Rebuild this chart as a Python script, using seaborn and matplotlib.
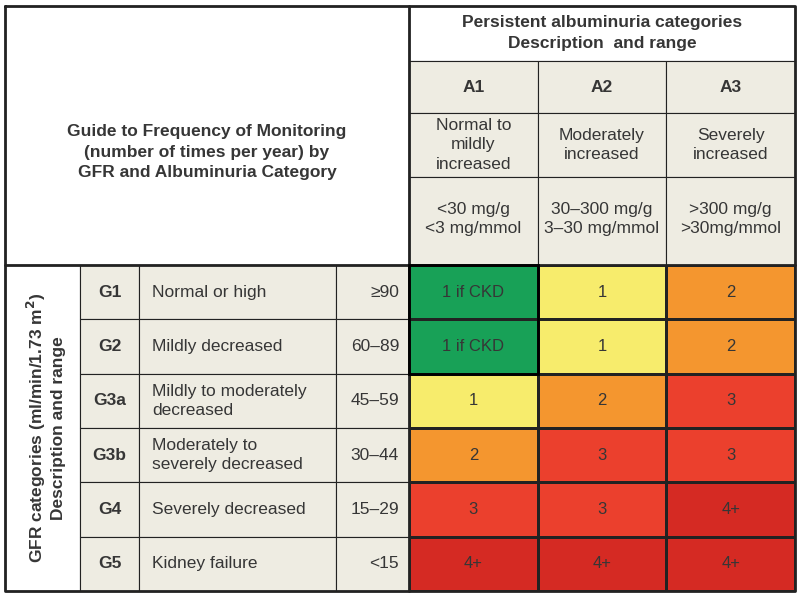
import matplotlib
matplotlib.use("Agg")
import matplotlib.pyplot as plt
import numpy as np
import seaborn as sns
from matplotlib.colors import ListedColormap
from matplotlib.patches import Rectangle

# ---- data ----
alb_cats = ["A1", "A2", "A3"]
alb_desc = ["Normal to\nmildly\nincreased", "Moderately\nincreased", "Severely\nincreased"]
alb_range = ["<30 mg/g\n<3 mg/mmol", "30\u2013300 mg/g\n3\u201330 mg/mmol", ">300 mg/g\n>30mg/mmol"]
gfr_cats = ["G1", "G2", "G3a", "G3b", "G4", "G5"]
gfr_desc = ["Normal or high", "Mildly decreased", "Mildly to moderately\ndecreased",
            "Moderately to\nseverely decreased", "Severely decreased", "Kidney failure"]
gfr_range = ["\u226590", "60\u201389", "45\u201359", "30\u201344", "15\u201329", "<15"]
risk_level = [[0, 1, 2], [0, 1, 2], [1, 2, 3], [2, 3, 3], [3, 3, 4], [4, 4, 4]]
monitoring = [["1 if CKD", "1", "2"], ["1 if CKD", "1", "2"], ["1", "2", "3"],
              ["2", "3", "3"], ["3", "3", "4+"], ["4+", "4+", "4+"]]
risk_colors = ["#18a157", "#f7ec6c", "#f4962f", "#eb402d", "#d52a23"]

W, H = 800, 597
sns.set_theme(style="white")
plt.rcParams["font.family"] = ["Liberation Sans", "DejaVu Sans"]
TXT = "#363636"
BEIGE = "#eeece2"
LINE = "#222222"
FS = 12.5

fig = plt.figure(figsize=(W / 100, H / 100), dpi=100)

# grid geometry (pixels)
x0, xs, x1 = 5, 409, 795
y0, ys, y1 = 6, 265, 591
left_cols = [5, 80, 139, 336, 409]
hdr_rows = [6, 61, 113, 177, 265]
ncol, nrow = len(alb_cats), len(gfr_cats)
col_edges = np.linspace(xs, x1, ncol + 1)
row_edges = np.linspace(ys, y1, nrow + 1)

# heatmap of monitoring frequency
hax = fig.add_axes([xs / W, 1 - y1 / H, (x1 - xs) / W, (y1 - ys) / H])
sns.heatmap(np.array(risk_level), ax=hax, cmap=ListedColormap(risk_colors),
            vmin=-0.5, vmax=4.5, cbar=False, annot=np.array(monitoring), fmt="",
            annot_kws={"color": TXT, "fontsize": 12},
            linewidths=0.8, linecolor=LINE)
hax.set_xticks([])
hax.set_yticks([])

# overlay for table body
ax = fig.add_axes([0, 0, 1, 1])
ax.set_xlim(0, W)
ax.set_ylim(H, 0)
ax.axis("off")

def cell(xa, ya, xb, yb, fc, lw=0.8):
    ax.add_patch(Rectangle((xa, ya), xb - xa, yb - ya, facecolor=fc,
                           edgecolor=LINE, linewidth=lw, zorder=1))

# top-left header
cell(x0, y0, xs, ys, "white")
ax.text((x0 + xs) / 2, 152, "Guide to Frequency of Monitoring\n(number of times per year) by\nGFR and Albuminuria Category",
        ha="center", va="center", fontsize=FS, fontweight="bold", color=TXT, linespacing=1.45)

# albuminuria header
cell(xs, hdr_rows[0], x1, hdr_rows[1], "white")
ax.text((xs + x1) / 2, 33, "Persistent albuminuria categories\nDescription  and range",
        ha="center", va="center", fontsize=FS, fontweight="bold", color=TXT, linespacing=1.5)
for j in range(ncol):
    xa, xb = col_edges[j], col_edges[j + 1]
    xc = (xa + xb) / 2
    for r in range(1, 4):
        cell(xa, hdr_rows[r], xb, hdr_rows[r + 1], BEIGE)
    ax.text(xc, (hdr_rows[1] + hdr_rows[2]) / 2, alb_cats[j], ha="center", va="center",
            fontsize=FS, fontweight="bold", color=TXT)
    ax.text(xc, (hdr_rows[2] + hdr_rows[3]) / 2, alb_desc[j], ha="center", va="center",
            fontsize=FS, color=TXT, linespacing=1.4)
    ax.text(xc, (hdr_rows[3] + hdr_rows[4]) / 2 - 2, alb_range[j], ha="center", va="center",
            fontsize=FS, color=TXT, linespacing=1.3)

# GFR side
cell(left_cols[0], ys, left_cols[1], y1, "white")
ax.text((left_cols[0] + left_cols[1]) / 2 + 3, (ys + y1) / 2,
        "GFR categories (ml/min/1.73 m$^\\mathbf{2}$)\nDescription and range",
        ha="center", va="center", rotation=90, fontsize=FS, fontweight="bold",
        color=TXT, linespacing=1.2)
for i in range(nrow):
    ya, yb = row_edges[i], row_edges[i + 1]
    yc = (ya + yb) / 2
    for k in range(1, 4):
        cell(left_cols[k], ya, left_cols[k + 1], yb, BEIGE)
    ax.text((left_cols[1] + left_cols[2]) / 2, yc, gfr_cats[i], ha="center", va="center",
            fontsize=FS, fontweight="bold", color=TXT)
    ax.text(left_cols[2] + 13, yc, gfr_desc[i], ha="left", va="center",
            fontsize=FS, color=TXT, linespacing=1.35)
    ax.text(left_cols[4] - 10, yc, gfr_range[i], ha="right", va="center",
            fontsize=FS, color=TXT)

# heavy dividers
ax.plot([x0, x1, x1, x0, x0], [y0, y0, y1, y1, y0], color=LINE, lw=2, zorder=5)
ax.plot([xs, xs], [y0, y1], color=LINE, lw=2, zorder=5)
ax.plot([x0, x1], [ys, ys], color=LINE, lw=2, zorder=5)
ax.add_patch(Rectangle((col_edges[0], row_edges[0]), col_edges[1] - col_edges[0],
                       row_edges[2] - row_edges[0], fill=False, edgecolor="black",
                       linewidth=2, zorder=5))

fig.savefig("out.png", dpi=100)
